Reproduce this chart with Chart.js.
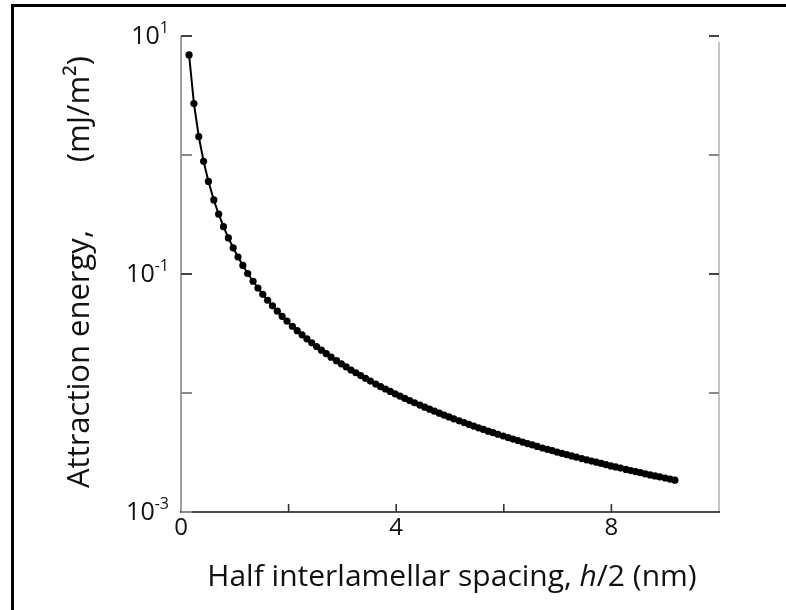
<!DOCTYPE html>
<html><head><meta charset="utf-8">
<script src="https://cdn.jsdelivr.net/npm/chart.js@4"></script>
<style>
html,body{margin:0;padding:0;background:#fff;overflow:hidden;}
#wrap{position:relative;width:786px;height:610px;background:#fff;}
#frame{position:absolute;left:11px;top:4px;width:775px;height:606px;border-top:3px solid #000;border-left:3px solid #000;box-sizing:border-box;pointer-events:none;}
canvas{position:absolute;left:0;top:0;}
</style></head><body>
<div id="wrap"><canvas id="c" width="786" height="610"></canvas><div id="frame"></div></div>
<script>
// Half interlamellar spacing h/2 (nm)
const spacing = [
 0.15,0.24,0.33,0.42,0.51,0.61,0.70,0.79,0.88,0.97,
 1.06,1.15,1.24,1.34,1.43,1.52,1.61,1.70,1.79,1.88,
 1.97,2.07,2.16,2.25,2.34,2.43,2.52,2.61,2.70,2.79,
 2.89,2.98,3.07,3.16,3.25,3.34,3.43,3.52,3.62,3.71,
 3.80,3.89,3.98,4.07,4.16,4.25,4.34,4.44,4.53,4.62,
 4.71,4.80,4.89,4.98,5.07,5.17,5.26,5.35,5.44,5.53,
 5.62,5.71,5.80,5.89,5.99,6.08,6.17,6.26,6.35,6.44,
 6.53,6.62,6.72,6.81,6.90,6.99,7.08,7.17,7.26,7.35,
 7.45,7.54,7.63,7.72,7.81,7.90,7.99,8.08,8.17,8.27,
 8.36,8.45,8.54,8.63,8.72,8.81,8.90,9.00,9.09,9.18
];
// Attraction energy (mJ/m^2)
const energy = [
 6.93,2.71,1.43,0.884,0.600,0.419,0.318,0.250,0.201,0.166,
 0.139,0.118,0.101,0.0869,0.0763,0.0675,0.0602,0.0540,0.0487,0.0441,
 0.0402,0.0364,0.0334,0.0308,0.0285,0.0264,0.0246,0.0229,0.0214,0.0200,
 0.0187,0.0176,0.0166,0.0156,0.0148,0.0140,0.0133,0.0126,0.0119,0.0113,
 0.0108,0.0103,0.00985,0.00942,0.00901,0.00864,0.00828,0.00791,0.00760,0.00731,
 0.00703,0.00677,0.00652,0.00629,0.00607,0.00584,0.00564,0.00545,0.00527,0.00510,
 0.00494,0.00478,0.00464,0.00450,0.00435,0.00422,0.00410,0.00398,0.00387,0.00376,
 0.00366,0.00356,0.00345,0.00336,0.00328,0.00319,0.00311,0.00303,0.00296,0.00289,
 0.00281,0.00274,0.00268,0.00262,0.00256,0.00250,0.00244,0.00239,0.00234,0.00228,
 0.00223,0.00218,0.00214,0.00209,0.00205,0.00201,0.00197,0.00193,0.00189,0.00185
];
const xTickValues = [2,4,6,8];
const xLabelValues = [0,4,8];
const yTickValues = [10,1,0.1,0.01,0.001];
const yLabelValues = [10,0.1,0.001];
const yLabelExponents = ['1','-1','-3'];
const xTitleParts = ['Half interlamellar spacing, ','h','/2 (nm)'];
const yTitleLeft = 'Attraction energy,';
const yTitleRight = '(mJ/m\u00B2)';

const FONT = "'Open Sans','Noto Sans',sans-serif";

const axesPlugin = {
  id:'axesDeco',
  afterDraw(chart){
    const ctx = chart.ctx, ca = chart.chartArea;
    const xs = chart.scales.x, ys = chart.scales.y;
    ctx.save();
    ctx.lineCap='butt';
    ctx.strokeStyle='#a0a0a0'; ctx.lineWidth=2;
    ctx.beginPath(); ctx.moveTo(ca.left, ca.top); ctx.lineTo(ca.left, ca.bottom); ctx.stroke();
    ctx.strokeStyle='#c4c4c4';
    ctx.beginPath(); ctx.moveTo(ca.right, ca.top+6); ctx.lineTo(ca.right, ca.bottom); ctx.stroke();
    ctx.strokeStyle='#111'; ctx.lineWidth=1.6;
    ctx.beginPath(); ctx.moveTo(ca.left-1, ca.bottom); ctx.lineTo(ca.right+1, ca.bottom); ctx.stroke();
    yTickValues.forEach(v=>{
      const y = Math.round(ys.getPixelForValue(v));
      const dark = (v===10 || v===0.1);
      ctx.lineWidth=2;
      ctx.strokeStyle = dark ? '#444' : '#8a8a8a';
      ctx.beginPath(); ctx.moveTo(ca.left, y); ctx.lineTo(ca.left+11, y); ctx.stroke();
      if (v!==0.001){
        ctx.beginPath(); ctx.moveTo(ca.right, y); ctx.lineTo(ca.right-10, y); ctx.stroke();
      }
    });
    ctx.strokeStyle='#333'; ctx.lineWidth=1.6;
    xTickValues.forEach(v=>{
      const x = xs.getPixelForValue(v);
      ctx.beginPath(); ctx.moveTo(x, ca.bottom); ctx.lineTo(x, ca.bottom-8); ctx.stroke();
    });
    ctx.fillStyle='#111';
    ctx.font = "24px "+FONT;
    ctx.textAlign='center'; ctx.textBaseline='alphabetic';
    xLabelValues.forEach(v=>{
      ctx.fillText(String(v), xs.getPixelForValue(v), ca.bottom+23);
    });
    yLabelValues.forEach((v,i)=>{
      const y = ys.getPixelForValue(v);
      const exp = yLabelExponents[i];
      ctx.font = "16px "+FONT;
      const ew = ctx.measureText(exp).width;
      const right = ca.left - 12;
      ctx.textAlign='right';
      ctx.fillText(exp, right, y - 3);
      ctx.font = "25px "+FONT;
      ctx.fillText('10', right - ew, y + 8);
    });
    ctx.textAlign='left';
    const normal = "30px "+FONT, ital = "italic 30px "+FONT;
    ctx.font = normal; const w0 = ctx.measureText(xTitleParts[0]).width;
    ctx.font = ital;   const w1 = ctx.measureText(xTitleParts[1]).width;
    ctx.font = normal; const w2 = ctx.measureText(xTitleParts[2]).width;
    let x0 = 452 - (w0+w1+w2)/2;
    const by = 586;
    ctx.font = normal; ctx.fillText(xTitleParts[0], x0, by);
    ctx.font = ital;   ctx.fillText(xTitleParts[1], x0+w0, by);
    ctx.font = normal; ctx.fillText(xTitleParts[2], x0+w0+w1, by);
    ctx.translate(89, 0);
    ctx.rotate(-Math.PI/2);
    ctx.font = "31px "+FONT;
    ctx.textAlign='left';
    ctx.fillText(yTitleLeft, -488, 0);
    ctx.textAlign='right';
    ctx.fillText(yTitleRight, -56, 0);
    ctx.restore();
  }
};

new Chart(document.getElementById('c').getContext('2d'), {
  type:'line',
  data:{datasets:[{
    data: spacing.map((x,i)=>({x:x, y:energy[i]})),
    borderColor:'#000', borderWidth:2,
    pointRadius:3.6, pointBackgroundColor:'#000', pointBorderColor:'#000', pointBorderWidth:0,
    tension:0, fill:false
  }]},
  options:{
    responsive:false, animation:false, devicePixelRatio:1,
    layout:{padding:{top:36,right:67,left:0,bottom:0}},
    plugins:{legend:{display:false}, tooltip:{enabled:false}},
    scales:{
      x:{type:'linear', min:0, max:10,
         border:{display:false}, grid:{display:false},
         ticks:{display:false, stepSize:2},
         afterFit(s){ s.height = 98; }},
      y:{type:'logarithmic', min:0.001, max:10,
         border:{display:false}, grid:{display:false},
         ticks:{display:false},
         afterBuildTicks(s){ s.ticks = yTickValues.map(v=>({value:v})); },
         afterFit(s){ s.width = 181; }}
    }
  },
  plugins:[axesPlugin]
});
</script>
</body></html>
